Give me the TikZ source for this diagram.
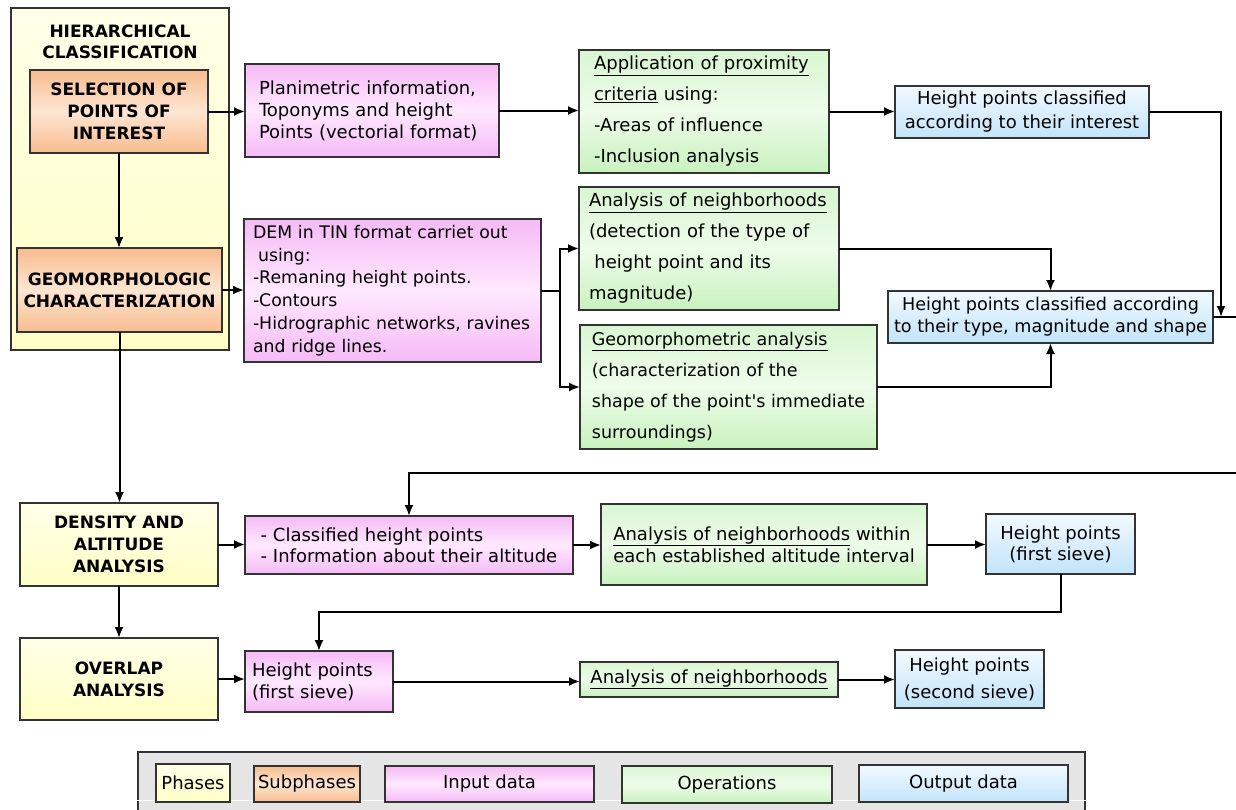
\documentclass[tikz,border=0pt]{standalone}
\usepackage{fontspec}
\setmainfont{DejaVu Sans}
\usetikzlibrary{arrows.meta, positioning}
\definecolor{phaseTop}{HTML}{FFFFE8}
\definecolor{phaseBot}{HTML}{FFFFC6}
\definecolor{subEdge}{HTML}{F8BC8E}
\definecolor{subMid}{HTML}{FDE6D2}
\definecolor{inEdge}{HTML}{F5BAF5}
\definecolor{inMid}{HTML}{FFE9FF}
\definecolor{opEdge}{HTML}{C8F2BE}
\definecolor{opMid}{HTML}{EEFCEA}
\definecolor{outEdge}{HTML}{C2E4FA}
\definecolor{outMid}{HTML}{F2F9FF}
\tikzstyle{block} = [rectangle, draw=black!80, line width=1.3pt, inner sep=0pt, outer sep=0pt, font=\fontsize{18}{22}\selectfont]
\tikzstyle{phase} = [block, top color=phaseTop, bottom color=phaseBot, align=center, font=\fontsize{17}{22}\selectfont\bfseries]
\tikzstyle{subphase} = [block, top color=subEdge, bottom color=subEdge, middle color=subMid, align=center, font=\fontsize{17}{22}\selectfont\bfseries]
\tikzstyle{indata} = [block, top color=inEdge, bottom color=inEdge, middle color=inMid, align=left]
\tikzstyle{operation} = [block, top color=opEdge!70, bottom color=opEdge, middle color=opMid, align=left, font=\fontsize{18}{31}\selectfont]
\tikzstyle{outdata} = [block, top color=outMid, bottom color=outEdge, align=center]
\tikzstyle{arrow} = [line width=2pt, -{Latex[length=11pt,width=9pt]}]
\tikzstyle{line} = [line width=2pt]

\begin{document}
\begin{tikzpicture}[x=1pt, y=-1pt]
    \useasboundingbox (0,0) rectangle (1236,809);
    % first phase and its subphases
    \node (hier) [phase, minimum width=218pt, minimum height=342pt,
        label={[anchor=north, inner sep=17pt, align=center, font=\fontsize{17}{21}\selectfont\bfseries]north:HIERARCHICAL\\CLASSIFICATION}] at (120,179) {};
    \node (sel) [subphase, minimum width=178pt, minimum height=83pt] at (119,111.5)
        {SELECTION OF\\POINTS OF\\INTEREST};
    \node (geo) [subphase, minimum width=205pt, minimum height=84pt] at (119.5,290)
        {GEOMORPHOLOGIC\\CHARACTERIZATION};
    % input data
    \node (plan) [indata, text width=226pt, inner xsep=14pt, minimum height=93pt] at (372,110.5)
        {Planimetric information,\\Toponyms and height\\Points (vectorial format)};
    \node (dem) [indata, text width=279pt, inner xsep=9pt, minimum height=143pt,
        font=\fontsize{17.3}{22.7}\selectfont] at (392.5,290.5)
        {DEM in TIN format carriet out\\\hspace*{0.3em}using:\\-Remaning height points.\\-Contours\\-Hidrographic networks, ravines\\and ridge lines.};
    % operations
    \node (app) [operation, text width=220pt, inner xsep=15pt, minimum height=123pt] at (704,111.5)
        {\underline{Application of proximity}\\\underline{criteria} using:\\-Areas of influence\\-Inclusion analysis};
    \node (ngh) [operation, text width=240pt, inner xsep=10pt, minimum height=123pt] at (709,248.5)
        {\underline{Analysis of neighborhoods}\\(detection of the type of\\\hspace*{0.3em}height point and its\\magnitude)};
    \node (gmt) [operation, minimum width=297pt, minimum height=124pt, font=\fontsize{17.5}{31}\selectfont]
        at (728.5,387)
        {\underline{Geomorphometric analysis}\\(characterization of the\\shape of the point\textquotesingle s immediate\\surroundings)};
    % outputs
    \node (out1) [outdata, minimum width=254pt, minimum height=52pt, font=\fontsize{18}{24}\selectfont]
        at (1022,112) {Height points classified\\according to their interest};
    \node (out2) [outdata, minimum width=325pt, minimum height=52pt, font=\fontsize{17.6}{22}\selectfont]
        at (1050.5,317) {Height points classified according\\to their type, magnitude and shape};
    % second and third phases
    \node (dens) [phase, minimum width=198pt, minimum height=83pt] at (119,544.5)
        {DENSITY AND\\ALTITUDE\\ANALYSIS};
    \node (ovl) [phase, minimum width=198pt, minimum height=82pt] at (119,679)
        {OVERLAP\\ANALYSIS};
    \node (in1) [indata, minimum width=328pt, minimum height=58pt, font=\fontsize{18}{21}\selectfont]
        at (409,545) {- Classified height points\\- Information about their altitude};
    \node (oper3) [operation, minimum width=326pt, minimum height=81pt, font=\fontsize{18}{22}\selectfont]
        at (764,544.5) {\underline{Analysis of neighborhoods} within\\each established altitude interval};
    \node (out3) [outdata, minimum width=149pt, minimum height=60pt, font=\fontsize{18}{21}\selectfont]
        at (1060.5,544) {Height points\\(first sieve)};
    \node (in2) [indata, text width=134pt, inner xsep=7pt, minimum height=61pt] at (319,681.5)
        {Height points\\(first sieve)};
    \node (oper4) [operation, minimum width=258pt, minimum height=35pt] at (709,679.5)
        {\underline{Analysis of neighborhoods}};
    \node (out4) [outdata, minimum width=149pt, minimum height=58pt, font=\fontsize{18}{27}\selectfont]
        at (969.5,679) {Height points\\(second sieve)};

    % connectors
    \draw [arrow] (sel.east) -- (sel.east -| plan.west);
    \draw [arrow] (sel.south) -- (sel.south |- geo.north);
    \draw [arrow] (geo.east) -- (geo.east -| dem.west);
    \draw [arrow] (plan.east) -- (plan.east -| app.west);
    \draw [arrow] (app.east) -- (app.east -| out1.west);
    \draw [line] (dem.east) -- ++(19,0) coordinate (split);
    \draw [arrow] (split) |- (ngh.west);
    \draw [arrow] (split) |- (gmt.west);
    \draw [arrow] (ngh.east) -| (out2.north);
    \draw [arrow] (gmt.east) -| (out2.south);
    \coordinate (merge) at ([xshift=8pt]out2.east);
    \coordinate (loop) at (1245,473);
    \draw [arrow] (out1.east) -| (merge);
    \draw [arrow] (out2.east) -| (loop) -| (in1.north);
    \draw [arrow] (geo.south) -- (geo.south |- dens.north);
    \draw [arrow] (dens.east) -- (dens.east -| in1.west);
    \draw [arrow] (in1.east) -- (in1.east -| oper3.west);
    \draw [arrow] (oper3.east) -- (oper3.east -| out3.west);
    \draw [arrow] (dens.south) -- (ovl.north);
    \draw [arrow] (ovl.east) -- (ovl.east -| in2.west);
    \draw [arrow] (out3.south) -- ++(0,38) -| (in2.north);
    \draw [arrow] (in2.east) -- (in2.east -| oper4.west);
    \draw [arrow] (oper4.east) -- (oper4.east -| out4.west);

    % legend
    \node (legend) [block, fill=black!10, minimum width=947pt, minimum height=80pt] at (611.5,792) {};
    \draw [white, line width=0.8pt] (136,800) -- (1092,800);
    \node (kphase) [phase, font=\fontsize{18}{20}\selectfont, minimum width=74pt, minimum height=38pt]
        at (193,783) {Phases};
    \node (ksub) [subphase, font=\fontsize{18}{20}\selectfont, minimum width=106pt, minimum height=36pt]
        at (307,784) {Subphases};
    \node (kin) [indata, minimum width=209pt, minimum height=36pt] at (489.5,784) {Input data};
    \node (kop) [operation, font=\fontsize{18}{20}\selectfont, minimum width=210pt, minimum height=37pt]
        at (727,784.5) {Operations};
    \node (kout) [outdata, minimum width=209pt, minimum height=37pt] at (963.5,783.5) {Output data};
\end{tikzpicture}
\end{document}
